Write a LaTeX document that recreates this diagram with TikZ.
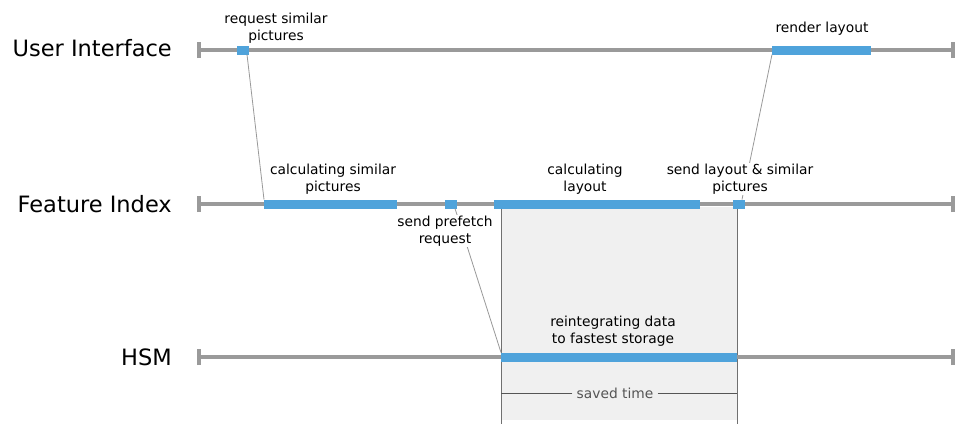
\documentclass[tikz,border=0pt]{standalone}
\usepackage{fontspec}
\setmainfont{DejaVu Sans}
\definecolor{trackgray}{HTML}{9A9A9A}
\definecolor{segblue}{HTML}{4FA3DB}
\definecolor{boxfill}{HTML}{F0F0F0}
\definecolor{boxedge}{HTML}{707070}
\definecolor{conngray}{HTML}{999999}
\definecolor{savedgray}{HTML}{555555}
\tikzset{
  track/.style={draw=trackgray, line width=4pt},
  seg/.style={fill=segblue, draw=none, minimum height=9pt, inner sep=0pt, outer sep=0pt},
  note/.style={font=\fontsize{13.8}{17.5}\selectfont, align=center, inner sep=1pt},
  wnote/.style={note, fill=white},
  lane/.style={font=\fontsize{22.5}{25}\selectfont, anchor=east, inner sep=0pt},
  conn/.style={draw=conngray, line width=0.8pt},
  boxline/.style={draw=boxedge, line width=0.9pt}
}
\begin{document}
\begin{tikzpicture}[x=1pt,y=-1pt]
\path[fill=white,use as bounding box] (0,0) rectangle (955,424);
% saved-time box
\fill[boxfill] (501,207) rectangle (737,420);
\coordinate (bl1) at (501,207); \coordinate (bl2) at (501,424);
\coordinate (br1) at (737,207); \coordinate (br2) at (737,424);
\draw[boxline] (bl1) -- (bl2);
\draw[boxline] (br1) -- (br2);
% tracks
\foreach \n/\y in {ui/50, fi/204, hsm/357}{
  \coordinate (\n s) at (199,\y);
  \coordinate (\n e) at (953,\y);
  \draw[track] (\n s) -- (\n e);
  \draw[track] ([yshift=-8pt]\n s) -- ([yshift=8pt]\n s);
  \draw[track] ([yshift=-8pt]\n e) -- ([yshift=8pt]\n e);
}
% lane labels
\node[lane] (lui) at (172,48) {User Interface};
\node[lane] (lfi) at (172,204) {Feature Index};
\node[lane] (lhsm) at (172,357) {HSM};
% segments
\node[seg, minimum width=12pt] (req) at (243,50) {};
\node[seg, minimum width=99pt] (rend) at (821.5,50) {};
\node[seg, minimum width=133pt] (calcsim) at (330.5,204) {};
\node[seg, minimum width=12pt] (pre) at (451,204) {};
\node[seg, minimum width=206pt] (calclay) at (597,204) {};
\node[seg, minimum width=12pt] (send) at (739,204) {};
\node[seg, minimum width=236pt] (reint) at (619,357) {};
% connectors
\draw[conn] ([xshift=4pt]req.south) -- (calcsim.north west);
\draw[conn] (rend.south west) -- ([xshift=3pt]send.north);
\draw[conn] ([xshift=4pt]pre.south) -- (reint.north west);
% notes
\node[wnote] (nreq) at (276,28) {request similar\\pictures};
\node[wnote] (nrend) at (822,29) {render layout};
\node[wnote] (ncalcsim) at (333,179) {calculating similar\\pictures};
\node[wnote] (ncalclay) at (585,179) {calculating\\layout};
\node[wnote] (nsend) at (740,179) {send layout \& similar\\pictures};
\node[wnote] (npre) at (445,231) {send prefetch\\request};
\node[note] (nreint) at (613,331) {reintegrating data\\to fastest storage};
% saved time
\node[note, text=savedgray, inner sep=4pt] (saved) at (615,393) {saved time};
\draw[draw=savedgray, line width=0.7pt] (saved.west) -- (saved.west -| bl1);
\draw[draw=savedgray, line width=0.7pt] (saved.east) -- (saved.east -| br1);
\end{tikzpicture}
\end{document}
